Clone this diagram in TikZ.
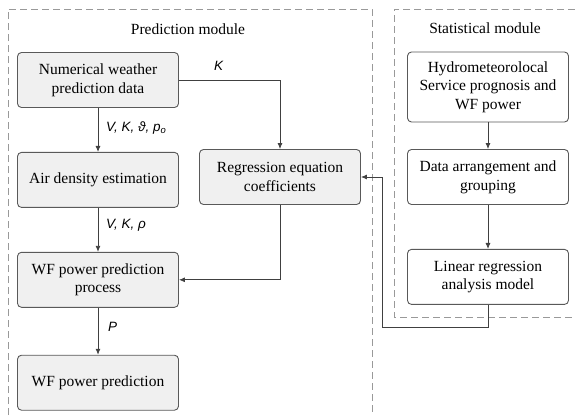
\documentclass[tikz,border=0pt]{standalone}
\usepackage{fontspec}
\setmainfont{Liberation Serif}
\setsansfont{Liberation Sans}
\usepackage{tikz}
\usetikzlibrary{arrows.meta, positioning, calc}

\begin{document}
\begin{tikzpicture}[
    x=1pt, y=-1pt,
    node distance=44pt,
    box/.style={draw=#1, rounded corners=4pt, minimum height=55pt, minimum width=161pt, align=center,
        font=\fontsize{15.5}{18.6}\selectfont, line width=0.9pt, inner sep=4pt},
    predbox/.style={box=black!65, fill=black!6},
    statbox/.style={box=black!65, fill=white},
    arr/.style={-{Latex[length=6pt,width=5pt]}, line width=0.8pt, black!75},
    lbl/.style={font=\fontsize{13.5}{16}\selectfont\sffamily\itshape, anchor=west, inner sep=0pt},
    module/.style={dashed, dash pattern=on 7pt off 4pt, line width=0.9pt, black!40},
    header/.style={font=\fontsize{15.5}{18.6}\selectfont}
]
\useasboundingbox (0,0) rectangle (575,415);

% Module frames
\draw[module] (8,415) -- (8,9) -- (372,9) -- (372,415);
\draw[module] (575,9) -- (394,9) -- (394,317) -- (575,317);

% Column headers
\node[header] (hpred) at (188,29) {Prediction module};
\node[header] (hstat) at (485,28) {Statistical module};

% Prediction module
\node[predbox] (nwp) at (98,80) {Numerical weather\\prediction data};
\node[predbox, below=of nwp] (air) {Air density estimation};
\node[predbox, below=of air] (wfp) {WF power prediction\\process};
\node[predbox, below=47pt of wfp] (wfout) {WF power prediction};
\node[predbox] (reg) at (280,177) {Regression equation\\coefficients};

% Statistical module
\node[statbox, minimum height=70pt] (hydro) at (488,87) {Hydrometeorolocal\\Service prognosis and\\WF power};
\node[statbox] (arrange) at (488,177) {Data arrangement and\\grouping};
\node[statbox, below=of arrange] (linreg) {Linear regression\\analysis model};
\coordinate (back) at (382,327);

% Connectors
\draw[arr] (nwp) -- (air);
\draw[arr] (air) -- (wfp);
\draw[arr] (wfp) -- (wfout);
\draw[arr] (nwp.east) -| (reg.north);
\draw[arr] (reg.south) |- (wfp.east);
\draw[arr] (hydro) -- (arrange);
\draw[arr] (arrange) -- (linreg);
\draw[arr] (linreg.south) |- (back) |- (reg.east);

% Signal labels
\node[lbl] (lnwp) at (106,128) {V, K, ϑ, p\textsubscript{o}};
\node[lbl] (lair) at (106,225) {V, K, ρ};
\node[lbl] (lwfp) at (108,327) {P};
\node[lbl] (lk) at (214,66) {K};
\end{tikzpicture}
\end{document}
